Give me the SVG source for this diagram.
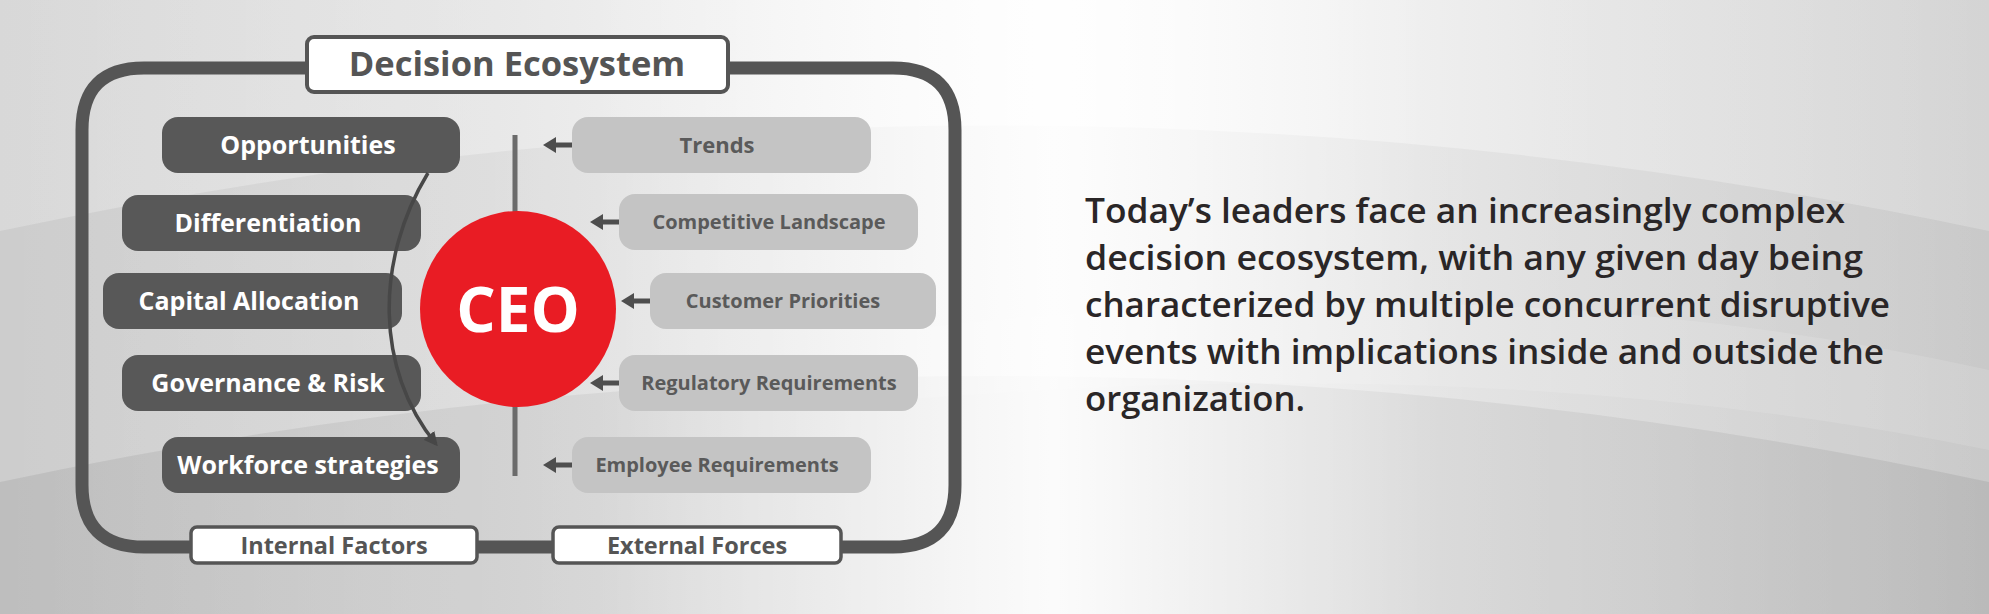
<svg xmlns="http://www.w3.org/2000/svg" xmlns:xlink="http://www.w3.org/1999/xlink" width="1989" height="614" viewBox="0 0 1989 614">
<defs>
<linearGradient id="bg" x1="0" y1="0" x2="1" y2="0">
<stop offset="0" stop-color="#d8d8d8"/>
<stop offset="0.25" stop-color="#e2e2e2"/>
<stop offset="0.53" stop-color="#f8f8f8"/>
<stop offset="0.78" stop-color="#e2e2e2"/>
<stop offset="1" stop-color="#d4d4d4"/>
</linearGradient>
<linearGradient id="glow" x1="0" y1="0" x2="1" y2="0">
<stop offset="0" stop-color="#fff" stop-opacity="0"/>
<stop offset="0.3" stop-color="#fff" stop-opacity="0.25"/>
<stop offset="0.53" stop-color="#fff" stop-opacity="0.9"/>
<stop offset="0.72" stop-color="#fff" stop-opacity="0.3"/>
<stop offset="1" stop-color="#fff" stop-opacity="0"/>
</linearGradient>
<path id="arr" d="M0,0 L13,-8 L13,-2.5 L29,-2.5 L29,2.5 L13,2.5 L13,8 Z"/>
<marker id="head" viewBox="0 0 10 10" refX="8" refY="5" markerWidth="4" markerHeight="4" orient="auto" markerUnits="strokeWidth">
<path d="M0,0 L10,5 L0,10 Z" fill="#474747"/>
</marker>
<style>
.dk{fill:#585858}
.lt{fill:#c4c4c4}
.wt{font-family:"Open Sans","Liberation Sans",sans-serif;font-weight:700;font-size:25px;fill:#fff;text-anchor:middle}
.gt{font-family:"Open Sans","Liberation Sans",sans-serif;font-weight:700;font-size:20px;fill:#5a5a5a;text-anchor:middle}
.lbl{fill:#fff;stroke:#555;stroke-width:3.5}
.lt2{font-family:"Open Sans","Liberation Sans",sans-serif;font-weight:700;font-size:23.5px;fill:#555;text-anchor:middle}
.para{font-family:"Open Sans","Liberation Sans",sans-serif;font-weight:600;font-size:35px;fill:#2a2627}
</style>
</defs>
<g id="background">
<rect width="1989" height="614" fill="url(#bg)"/>
<path d="M0,231 Q995,20 1989,231 L1989,614 L0,614 Z" fill="#000" fill-opacity="0.05"/>
<path d="M0,482 Q995,270 1989,482 L1989,614 L0,614 Z" fill="#000" fill-opacity="0.07"/>
<path d="M900,330 Q1500,260 1989,370 L1989,450 Q1500,350 900,400 Z" fill="#fff" fill-opacity="0.12"/>
<rect width="1989" height="614" fill="url(#glow)"/>
</g>
<g id="frame">
<path d="M307,68 L144,68 Q82,68 82,130 L82,485 Q82,547 144,547 L893,547 Q955,547 955,485 L955,130 Q955,68 893,68 L728,68" fill="none" stroke="#555" stroke-width="13"/>
</g>
<g id="title">
<rect x="307" y="37" width="421" height="55" rx="7" class="lbl" style="stroke-width:4"/>
<text x="517" y="76" class="lt2" style="font-size:34.5px">Decision Ecosystem</text>
</g>
<g id="axis">
<line x1="515" y1="135" x2="515" y2="476" stroke="#6b6b6b" stroke-width="5"/>
</g>
<g id="opportunities"><rect x="162" y="117" width="298" height="56" rx="16" class="dk"/><text x="308" y="154" class="wt">Opportunities</text></g>
<g id="differentiation"><rect x="122" y="195" width="299" height="56" rx="16" class="dk"/><text x="268" y="232" class="wt">Differentiation</text></g>
<g id="capital-allocation"><rect x="103" y="273" width="299" height="56" rx="16" class="dk"/><text x="249" y="310" class="wt">Capital Allocation</text></g>
<g id="governance"><rect x="122" y="355" width="299" height="56" rx="16" class="dk"/><text x="268" y="392" class="wt">Governance &amp; Risk</text></g>
<g id="workforce"><rect x="162" y="437" width="298" height="56" rx="16" class="dk"/><text x="308" y="474" class="wt">Workforce strategies</text></g>
<g id="ceo">
<circle cx="518" cy="309" r="98" fill="#e91c24"/>
<text x="518" y="332" font-family="'Open Sans','Liberation Sans',sans-serif" font-weight="700" font-size="62" fill="#fff" text-anchor="middle">CEO</text>
</g>
<g id="trends"><rect x="572" y="117" width="299" height="56" rx="16" class="lt"/><text x="717" y="153" class="gt" style="font-size:22px">Trends</text></g>
<g id="competitive-landscape"><rect x="619" y="194" width="299" height="56" rx="16" class="lt"/><text x="769" y="229" class="gt">Competitive Landscape</text></g>
<g id="customer-priorities"><rect x="650" y="273" width="286" height="56" rx="16" class="lt"/><text x="783" y="308" class="gt">Customer Priorities</text></g>
<g id="regulatory-requirements"><rect x="619" y="355" width="299" height="56" rx="16" class="lt"/><text x="769" y="390" class="gt">Regulatory Requirements</text></g>
<g id="employee-requirements"><rect x="572" y="437" width="299" height="56" rx="16" class="lt"/><text x="717" y="472" class="gt">Employee Requirements</text></g>
<g id="internal-factors"><rect x="191" y="527" width="286" height="36" rx="6" class="lbl"/><text x="334" y="554" class="lt2">Internal Factors</text></g>
<g id="external-forces"><rect x="553" y="527" width="288" height="36" rx="6" class="lbl"/><text x="697" y="554" class="lt2">External Forces</text></g>
<g id="connectors" fill="#4e4e4e">
<path d="M428,173 C375,260 375,370 436,444" fill="none" stroke="#474747" stroke-width="3.5" marker-end="url(#head)"/>
<use xlink:href="#arr" x="543" y="145"/>
<use xlink:href="#arr" x="590" y="222"/>
<use xlink:href="#arr" x="621" y="301"/>
<use xlink:href="#arr" x="590" y="383"/>
<use xlink:href="#arr" x="543" y="465"/>
</g>
<g id="paragraph">
<text x="1085" y="223" class="para" textLength="760" lengthAdjust="spacingAndGlyphs">Today’s leaders face an increasingly complex</text>
<text x="1085" y="270" class="para" textLength="778" lengthAdjust="spacingAndGlyphs">decision ecosystem, with any given day being</text>
<text x="1085" y="317" class="para" textLength="805" lengthAdjust="spacingAndGlyphs">characterized by multiple concurrent disruptive</text>
<text x="1085" y="364" class="para" textLength="799" lengthAdjust="spacingAndGlyphs">events with implications inside and outside the</text>
<text x="1085" y="411" class="para" textLength="220" lengthAdjust="spacingAndGlyphs">organization.</text>
</g>
</svg>
